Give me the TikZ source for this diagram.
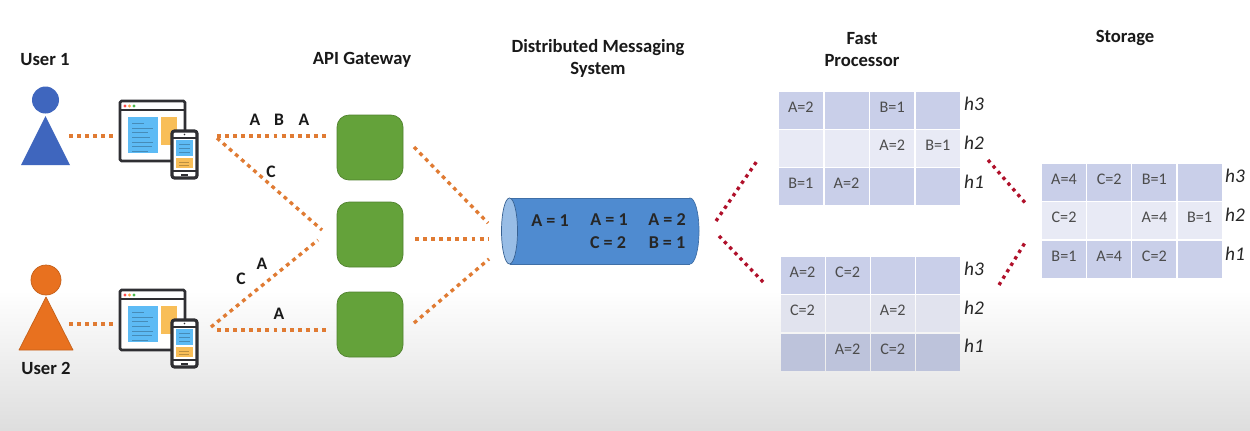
\documentclass[tikz,border=0pt]{standalone}
\usepackage{fontspec}
\setmainfont{Carlito}
\usetikzlibrary{positioning,calc}

\definecolor{userblue}{HTML}{3F66BE}
\definecolor{userorange}{HTML}{E8711F}
\definecolor{linkorange}{HTML}{E07B33}
\definecolor{linkred}{HTML}{B0102A}
\definecolor{gatewaygreen}{HTML}{64A23A}
\definecolor{queueblue}{HTML}{4F8BD0}
\definecolor{queuecap}{HTML}{98BDE6}
\definecolor{celldark}{HTML}{C9CFE9}
\definecolor{celllight}{HTML}{E8EAF5}
\definecolor{devdark}{HTML}{2F2F33}
\definecolor{panelblue}{HTML}{5DBBF5}
\definecolor{panelorange}{HTML}{F8BE58}

\tikzset{
  headtext/.style={font=\fontsize{10.6}{13}\selectfont\bfseries, text=black!90, align=center},
  flowtext/.style={font=\fontsize{10}{12}\selectfont\bfseries, text=black!90},
  queuetext/.style={font=\fontsize{10.3}{12}\selectfont\bfseries, text=black!85},
  rowtext/.style={font=\fontsize{11}{13}\selectfont\itshape, text=black!85},
  orangelink/.style={linkorange, line width=1.9pt, dash pattern=on 2.2pt off 2.4pt},
  redlink/.style={linkred, line width=1.9pt, dash pattern=on 1.9pt off 2.4pt},
  gatewaybox/.style={draw=gatewaygreen!80!black, fill=gatewaygreen, rounded corners=0.24cm, minimum width=1.32cm, minimum height=1.3cm, inner sep=0pt},
  cellbox/.style={minimum width=0.88cm, minimum height=0.74cm, inner sep=0pt, text=black!70, font=\fontsize{9.2}{11}\selectfont},
  device/.pic={
    \draw[devdark, fill=white, line width=1.6pt, rounded corners=0.03cm] (0,0) rectangle (65,60);
    \draw[devdark, line width=1pt] (0,9) -- (65,9);
    \fill[red!70!white] (5,5) circle (1.6);
    \fill[orange!70!white] (9.5,5) circle (1.6);
    \fill[green!60!black!70!white] (14,5) circle (1.6);
    \fill[panelblue] (8,16) rectangle (38,52);
    \fill[panelorange] (41,16) rectangle (57,44);
    \foreach \yy/\xx in {22/18,27/33,31/24,36/28,41/33,45/30,50/24}
      \draw[panelblue!75!black, line width=0.4pt] (12,\yy) -- (12+\xx*0.65,\yy);
    \draw[devdark, fill=white, line width=1.8pt, rounded corners=0.05cm] (52,30) rectangle (77,77);
    \draw[devdark, line width=0.7pt] (52,37) -- (77,37);
    \draw[devdark, line width=0.7pt] (52,70) -- (77,70);
    \fill[panelblue] (56,39) rectangle (73,55);
    \fill[panelorange] (56,57) rectangle (73,67);
    \fill[devdark] (61,73) rectangle (68,74.5);
    \fill[devdark] (64.5,33.5) circle (0.9);
    \foreach \yy in {43,47,51}
      \draw[panelblue!75!black, line width=0.4pt] (59,\yy) -- (70,\yy);
    \foreach \yy in {61,64}
      \draw[panelorange!75!black, line width=0.4pt] (59,\yy) -- (69,\yy);
  }
}

\begin{document}
\begin{tikzpicture}[x=0.02cm, y=-0.02cm, line cap=butt, line join=round]

% page and the grey fade at the bottom
\useasboundingbox (0,0) rectangle (1250,430);
\fill[white] (0,0) rectangle (1250,430);
\shade[top color=white, bottom color=black!13] (0,290) rectangle (1250,430);

% users
\fill[userblue] (45.5,100) circle (13.5);
\fill[userblue] (45.5,116) -- (70,165) -- (21,165) -- cycle;
\draw[userorange!85!black, fill=userorange, line width=0.4pt] (46,280) circle (15);
\draw[userorange!85!black, fill=userorange, line width=0.4pt] (46,297) -- (73,350) -- (19,350) -- cycle;
\node[headtext] (user1) at (45,60) {User 1};
\node[headtext] (user2) at (46,368) {User 2};

% browser and phone
\pic at (120,101) {device};
\pic at (120,290) {device};

% gateways
\node[gatewaybox] (gate1) at (370,147.5) {};
\node[gatewaybox] (gate2) at (370,234.5) {};
\node[gatewaybox] (gate3) at (370,324.5) {};
\node[headtext] (gatehead) at (362,60) {API Gateway};

% free ends of the links
\coordinate (u1a) at (69,136);
\coordinate (u1b) at (113,136);
\coordinate (u2a) at (69,324);
\coordinate (u2b) at (113,324);
\coordinate (d1a) at (217,136);
\coordinate (d1b) at (326,136);
\coordinate (d1c) at (217,138);
\coordinate (d1d) at (322,230);
\coordinate (d2a) at (211,327);
\coordinate (d2b) at (318,240);
\coordinate (d2c) at (217,330);
\coordinate (d2d) at (326,330);
\coordinate (g1a) at (414,147);
\coordinate (g1b) at (488,223);
\coordinate (g2a) at (415,239);
\coordinate (g2b) at (488,239);
\coordinate (g3a) at (414,323);
\coordinate (g3b) at (489,259);
\coordinate (q1a) at (716,221);
\coordinate (q1b) at (757,161);
\coordinate (q2a) at (719,236);
\coordinate (q2b) at (765,284);
\coordinate (f1a) at (988,160);
\coordinate (f1b) at (1027,205);
\coordinate (f2a) at (999,285);
\coordinate (f2b) at (1026,241);

\foreach \from/\to in {u1a/u1b,u2a/u2b,d1a/d1b,d1c/d1d,d2a/d2b,d2c/d2d,g1a/g1b,g2a/g2b,g3a/g3b}
  \draw[orangelink] (\from) -- (\to);
\foreach \from/\to in {q1a/q1b,q2a/q2b,f1a/f1b,f2a/f2b}
  \draw[redlink] (\from) -- (\to);

% letters on the links
\node[flowtext] (m1) at (255,120) {A};
\node[flowtext] (m2) at (279,120) {B};
\node[flowtext] (m3) at (304,120) {A};
\node[flowtext] (m4) at (271,172) {C};
\node[flowtext] (m5) at (241,279) {C};
\node[flowtext] (m6) at (262,264) {A};
\node[flowtext] (m7) at (279,314) {A};

% messaging system
\draw[queueblue!80!black, fill=queueblue, line width=0.4pt] (690,231) ellipse (9 and 33);
\fill[queueblue] (510,198) rectangle (690,264);
\draw[queueblue!80!black, line width=0.4pt] (510,198) -- (690,198);
\draw[queueblue!80!black, line width=0.4pt] (510,264) -- (690,264);
\draw[queueblue!70!black, fill=queuecap, line width=0.4pt] (509.5,231) ellipse (8 and 33);
\node[headtext] (queuehead) at (598,58.5) {Distributed Messaging\\System};
\node[queuetext] (q1) at (550,221) {A = 1};
\node[queuetext] (q2) at (609,220) {A = 1};
\node[queuetext] (q3) at (667,220) {A = 2};
\node[queuetext] (q4) at (608,243) {C = 2};
\node[queuetext] (q5) at (667,243) {B = 1};

% fast processor, upper table
\node[headtext] (fasthead) at (862,49.5) {Fast\\Processor};
\foreach \c/\r/\t/\s in {0/0/A=2/celldark,1/0//celldark,2/0/B=1/celldark,3/0//celldark,
                         0/1//celllight,1/1//celllight,2/1/A=2/celllight,3/1/B=1/celllight,
                         0/2/B=1/celldark,1/2/A=2/celldark,2/2//celldark,3/2//celldark}
  \node[cellbox, fill=\s] (up\r\c) at (800.8+\c*45.7,110+\r*38.4) {\raisebox{3.6pt}{\t}};
\node[rowtext] (uph3) at (974,104) {h3};
\node[rowtext] (uph2) at (974,143) {h2};
\node[rowtext] (uph1) at (974,182) {h1};

% fast processor, lower table
\foreach \c/\r/\t/\s in {0/0/A=2/celldark,1/0/C=2/celldark,2/0//celldark,3/0//celldark,
                         0/1/C=2/celllight!97!black,1/1//celllight!97!black,2/1/A=2/celllight!97!black,3/1//celllight!97!black,
                         0/2//celldark!94!black,1/2/A=2/celldark!94!black,2/2/C=2/celldark!94!black,3/2//celldark!94!black}
  \node[cellbox, fill=\s] (lo\r\c) at (802.5+\c*45.1,275+\r*38.6) {\raisebox{3.6pt}{\t}};
\node[rowtext] (loh3) at (974,269) {h3};
\node[rowtext] (loh2) at (974,308) {h2};
\node[rowtext] (loh1) at (974,346) {h1};

% storage
\node[headtext] (storehead) at (1125,38) {Storage};
\foreach \c/\r/\t/\s in {0/0/A=4/celldark,1/0/C=2/celldark,2/0/B=1/celldark,3/0//celldark,
                         0/1/C=2/celllight,1/1//celllight,2/1/A=4/celllight,3/1/B=1/celllight,
                         0/2/B=1/celldark,1/2/A=4/celldark,2/2/C=2/celldark,3/2//celldark}
  \node[cellbox, fill=\s] (st\r\c) at (1064+\c*45.2,182+\r*38.5) {\raisebox{3.6pt}{\t}};
\node[rowtext] (sth3) at (1235,176) {h3};
\node[rowtext] (sth2) at (1235,215) {h2};
\node[rowtext] (sth1) at (1235,254) {h1};

\end{tikzpicture}
\end{document}
